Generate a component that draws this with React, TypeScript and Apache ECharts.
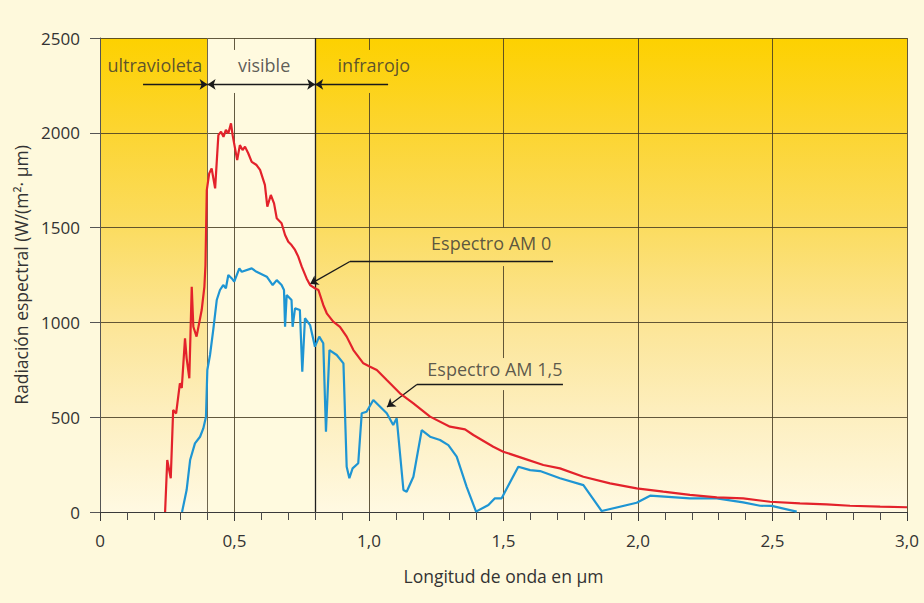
import React, { useEffect, useRef } from "react";
import * as echarts from "echarts";

// Espectro AM 0 (extraterrestre)
const am0Wavelength = [
  0.242, 0.25, 0.263, 0.272, 0.283, 0.297, 0.304, 0.316, 0.322, 0.332, 0.341, 0.347, 0.359, 0.378, 0.388, 0.392,
  0.397, 0.406, 0.415, 0.428, 0.44, 0.45, 0.459, 0.468, 0.477, 0.487, 0.493, 0.51, 0.52, 0.53, 0.539, 0.551,
  0.564, 0.582, 0.595, 0.613, 0.622, 0.635, 0.647, 0.657, 0.675, 0.688, 0.7, 0.712, 0.725, 0.737, 0.75, 0.768,
  0.781, 0.799, 0.812, 0.83, 0.843, 0.867, 0.892, 0.917, 0.942, 0.979, 1.004, 1.029, 1.066, 1.115, 1.165, 1.227,
  1.301, 1.357, 1.388, 1.462, 1.499, 1.574, 1.648, 1.71, 1.797, 1.896, 1.995, 2.094, 2.193, 2.293, 2.391, 2.491,
  2.602, 2.701, 2.788, 2.9, 3.0,
];
const am0Values = [
  0, 274, 178, 538, 520, 679, 654, 916, 812, 705, 1188, 977, 925, 1065, 1188, 1300,
  1698, 1786, 1812, 1707, 1988, 2006, 1979, 2015, 1997, 2050, 1988, 1856, 1935, 1909, 1927, 1892,
  1847, 1830, 1804, 1725, 1610, 1672, 1628, 1549, 1523, 1461, 1425, 1408, 1382, 1347, 1294, 1232,
  1197, 1180, 1171, 1092, 1048, 1004, 977, 925, 854, 784, 766, 749, 696, 626, 573, 503,
  450, 436, 406, 344, 318, 283, 248, 230, 186, 151, 125, 107, 90, 77, 72, 54,
  46, 40, 33, 28, 25,
];

// Espectro AM 1,5 (superficie terrestre)
const am15Wavelength = [
  0.305, 0.322, 0.335, 0.353, 0.372, 0.384, 0.394, 0.399, 0.409, 0.421, 0.434, 0.446, 0.458, 0.468, 0.477, 0.49,
  0.499, 0.518, 0.527, 0.564, 0.582, 0.62, 0.642, 0.657, 0.675, 0.684, 0.688, 0.694, 0.712, 0.716, 0.725, 0.743,
  0.752, 0.762, 0.781, 0.799, 0.815, 0.83, 0.84, 0.853, 0.88, 0.905, 0.917, 0.927, 0.939, 0.96, 0.973, 0.991,
  1.016, 1.066, 1.09, 1.103, 1.128, 1.14, 1.165, 1.196, 1.227, 1.264, 1.295, 1.326, 1.363, 1.398, 1.444, 1.468,
  1.493, 1.555, 1.599, 1.636, 1.71, 1.797, 1.865, 1.995, 2.045, 2.193, 2.293, 2.391, 2.454, 2.497, 2.59,
];
const am15Values = [
  0, 116, 274, 362, 397, 441, 503, 749, 828, 960, 1118, 1171, 1197, 1180, 1250, 1232,
  1215, 1285, 1267, 1285, 1267, 1241, 1197, 1223, 1197, 1171, 977, 1144, 1118, 977, 1074, 1065,
  740, 1022, 986, 872, 925, 890, 423, 854, 828, 784, 239, 178, 230, 257, 521, 529,
  591, 521, 459, 494, 116, 107, 186, 432, 397, 380, 353, 292, 133, 2, 37, 72,
  72, 239, 221, 216, 178, 142, 5, 49, 86, 72, 72, 51, 33, 32, 2,
];

const xTickLabels = ["0", "0,5", "1,0", "1,5", "2,0", "2,5", "3,0"];

// Regiones del espectro
const regionNames = ["ultravioleta", "visible", "infrarojo"];
const regionLabelX = [0.204, 0.61, 1.018];
const regionLabelY = 2357;
const visibleRange = [0.4, 0.8];
const regionArrowY = 2255;
const uvArrowStart = 0.16;
const irArrowEnd = 1.071;

// Anotaciones
const annotationNames = ["Espectro AM 0", "Espectro AM 1,5"];
const annotationLabelX = [1.454, 1.468];
const annotationLabelY = [1420, 752];
const annotationTip = [
  [0.781, 1202],
  [1.067, 554],
];
const annotationBend = [
  [0.929, 1321],
  [1.178, 673],
];
const annotationEnd = [1.684, 1.721];

// Líneas verticales de la cuadrícula (segmentos [x, yDesde, yHasta])
const verticalGrid = [
  [0.5, 0, 2210],
  [0.5, 2437, 2500],
  [1.0, 0, 2210],
  [1.0, 2437, 2500],
  [1.5, 0, 643],
  [1.5, 812, 1297],
  [1.5, 1500, 2500],
  [2.0, 0, 2500],
  [2.5, 0, 2500],
  [3.0, 0, 2500],
];

const FONT = "Open Sans";
const TEXT = "#333333";

export default function App() {
  const ref = useRef<HTMLDivElement>(null);

  useEffect(() => {
    if (!ref.current) return;
    const chart = echarts.init(ref.current, undefined, { renderer: "svg" });

    const am0 = am0Wavelength.map((x, i) => [x, am0Values[i]]);
    const am15 = am15Wavelength.map((x, i) => [x, am15Values[i]]);

    const plotGradient = new echarts.graphic.LinearGradient(0, 0, 0, 1, [
      { offset: 0, color: "#fdd100" },
      { offset: 0.2, color: "#fcd532" },
      { offset: 0.4, color: "#fbdc60" },
      { offset: 0.6, color: "#fce596" },
      { offset: 0.8, color: "#fdefc0" },
      { offset: 1, color: "#fff9e2" },
    ]);

    const gridLines: any[] = verticalGrid.map(([x, y0, y1]) => [
      { coord: [x, y0] },
      { coord: [x, y1] },
    ]);
    gridLines.push([
      { coord: [visibleRange[0], 0], lineStyle: { color: "#6f6650", width: 1 } },
      { coord: [visibleRange[0], 2500] },
    ]);
    gridLines.push([
      { coord: [visibleRange[1], 0], lineStyle: { color: "#1e1e1e", width: 1.3 } },
      { coord: [visibleRange[1], 2500] },
    ]);

    const arrowLines: any[] = [
      [
        { coord: [uvArrowStart, regionArrowY], symbol: "none" },
        { coord: [visibleRange[0], regionArrowY], symbol: "arrow" },
      ],
      [
        { coord: [visibleRange[0], regionArrowY], symbol: "arrow" },
        { coord: [visibleRange[1], regionArrowY], symbol: "arrow" },
      ],
      [
        { coord: [visibleRange[1], regionArrowY], symbol: "arrow" },
        { coord: [irArrowEnd, regionArrowY], symbol: "none" },
      ],
    ];
    annotationTip.forEach((tip, i) => {
      arrowLines.push([
        { coord: annotationBend[i], symbol: "none" },
        { coord: tip, symbol: "arrow" },
      ]);
      arrowLines.push([
        { coord: annotationBend[i], symbol: "none" },
        { coord: [annotationEnd[i], annotationBend[i][1]], symbol: "none" },
      ]);
    });

    const labels = [
      ...regionNames.map((n, i) => ({ name: n, value: [regionLabelX[i], regionLabelY] })),
      ...annotationNames.map((n, i) => ({ name: n, value: [annotationLabelX[i], annotationLabelY[i]] })),
    ];

    chart.setOption({
      animation: false,
      textStyle: { fontFamily: FONT },
      grid: { left: 100, right: 17, top: 38, bottom: 91, show: false },
      tooltip: { show: false },
      xAxis: {
        type: "value",
        min: 0,
        max: 3,
        interval: 0.5,
        z: 3,
        axisLine: { show: true, onZero: false, lineStyle: { color: "#3a3a3a", width: 1.2 } },
        axisTick: { show: true, length: 9, lineStyle: { color: "#3a3a3a", width: 1 } },
        minorTick: { show: true, splitNumber: 5, length: 8, lineStyle: { color: "#4a4a4a", width: 1 } },
        splitLine: { show: false },
        axisLabel: {
          color: TEXT,
          fontSize: 17,
          fontFamily: FONT,
          margin: 20,
          formatter: (v: number) => xTickLabels[Math.round(v / 0.5)] ?? "",
        },
        name: "Longitud de onda en µm",
        nameLocation: "middle",
        nameGap: 55,
        nameTextStyle: { color: TEXT, fontSize: 17.5, fontFamily: FONT },
      },
      yAxis: {
        type: "value",
        min: 0,
        max: 2500,
        interval: 500,
        z: 3,
        axisLine: { show: true, lineStyle: { color: "#555", width: 1 } },
        axisTick: { show: true, length: 10, lineStyle: { color: "#555", width: 1 } },
        splitLine: { show: true, lineStyle: { color: "rgba(70,60,35,0.85)", width: 1 } },
        axisLabel: {
          color: TEXT,
          fontSize: 17,
          fontFamily: FONT,
          margin: 20,
          formatter: (v: number) => String(v),
        },
        name: "Radiación espectral (W/(m²· µm)",
        nameLocation: "middle",
        nameGap: 64,
        nameTextStyle: { color: TEXT, fontSize: 17.5, fontFamily: FONT },
      },
      series: [
        {
          type: "line",
          z: 1,
          silent: true,
          symbol: "none",
          data: [],
          markArea: {
            silent: true,
            data: [
              [
                { coord: [0, 0], itemStyle: { color: plotGradient } },
                { coord: [3, 2500] },
              ],
              [
                { coord: [visibleRange[0], 0], itemStyle: { color: "#fffadf" } },
                { coord: [visibleRange[1], 2500] },
              ],
            ],
          },
        },
        {
          type: "line",
          z: 4,
          silent: true,
          symbol: "none",
          data: [],
          markLine: {
            silent: true,
            animation: false,
            symbol: ["none", "none"],
            label: { show: false },
            lineStyle: { color: "rgba(70,60,35,0.85)", width: 1, type: "solid" },
            data: gridLines,
          },
        },
        {
          type: "line",
          z: 6,
          silent: true,
          symbol: "none",
          data: [],
          markLine: {
            silent: true,
            animation: false,
            symbolSize: 8,
            label: { show: false },
            lineStyle: { color: "#1a1a1a", width: 1.3, type: "solid" },
            data: arrowLines,
          },
        },
        {
          type: "line",
          name: "Espectro AM 1,5",
          z: 7,
          symbol: "none",
          data: am15,
          lineStyle: { color: "#1e95d3", width: 2.2 },
        },
        {
          type: "line",
          name: "Espectro AM 0",
          z: 8,
          symbol: "none",
          data: am0,
          lineStyle: { color: "#e3222b", width: 2.2 },
        },
        {
          type: "scatter",
          z: 9,
          silent: true,
          symbol: "circle",
          symbolSize: 2,
          itemStyle: { color: "rgba(0,0,0,0)" },
          data: labels,
          label: {
            show: true,
            position: "inside",
            formatter: "{b}",
            color: TEXT,
            fontSize: 18,
            fontFamily: FONT,
          },
          labelLayout: { hideOverlap: false },
        },
      ],
    });

    return () => chart.dispose();
  }, []);

  return (
    <div
      ref={ref}
      style={{
        position: "absolute",
        left: 0,
        top: 0,
        width: 924,
        height: 603,
        background: "#fef9dc",
      }}
    />
  );
}
